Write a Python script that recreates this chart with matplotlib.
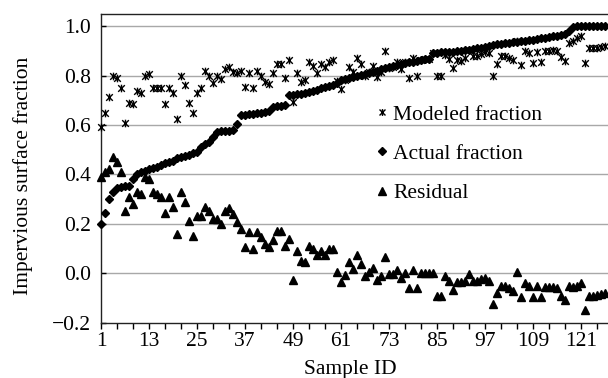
import numpy as np
import matplotlib
matplotlib.use("Agg")
import matplotlib.pyplot as plt
from matplotlib.path import Path
from matplotlib.ticker import FixedLocator, FuncFormatter

plt.rcParams['font.family'] = ['Liberation Serif', 'DejaVu Serif']

sample_id = list(range(1, 128))

modeled = [
    0.59, 0.65, 0.714, 0.80, 0.79, 0.75, 0.606, 0.69, 0.685, 0.737,
    0.73, 0.80, 0.805, 0.75, 0.75, 0.75, 0.683, 0.75, 0.73, 0.625,
    0.80, 0.76, 0.69, 0.647, 0.73, 0.75, 0.82, 0.80, 0.768, 0.80,
    0.785, 0.825, 0.835, 0.815, 0.81, 0.82, 0.755, 0.81, 0.75, 0.82,
    0.80, 0.775, 0.765, 0.81, 0.847, 0.847, 0.79, 0.863, 0.694, 0.81,
    0.775, 0.78, 0.856, 0.84, 0.81, 0.845, 0.836, 0.856, 0.863, 0.776,
    0.745, 0.78, 0.836, 0.813, 0.872, 0.845, 0.797, 0.814, 0.84, 0.795,
    0.815, 0.90, 0.832, 0.835, 0.856, 0.826, 0.853, 0.79, 0.87, 0.80,
    0.862, 0.865, 0.868, 0.89, 0.80, 0.80, 0.885, 0.866, 0.829, 0.862,
    0.86, 0.872, 0.902, 0.878, 0.88, 0.888, 0.896, 0.89, 0.80, 0.845,
    0.878, 0.88, 0.872, 0.861, 0.94, 0.843, 0.90, 0.892, 0.85, 0.897,
    0.855, 0.898, 0.90, 0.904, 0.90, 0.873, 0.857, 0.93, 0.94, 0.95,
    0.96, 0.851, 0.91, 0.91, 0.912, 0.915, 0.92,
]

actual = [
    0.20, 0.245, 0.30, 0.33, 0.345, 0.35, 0.352, 0.355, 0.38, 0.40,
    0.41, 0.415, 0.42, 0.425, 0.43, 0.44, 0.445, 0.45, 0.455, 0.465,
    0.47, 0.475, 0.48, 0.485, 0.49, 0.51, 0.525, 0.53, 0.55, 0.57,
    0.575, 0.575, 0.577, 0.58, 0.605, 0.64, 0.642, 0.644, 0.646, 0.648,
    0.65, 0.652, 0.655, 0.672, 0.675, 0.677, 0.68, 0.72, 0.722, 0.724,
    0.727, 0.73, 0.735, 0.738, 0.742, 0.748, 0.753, 0.758, 0.763, 0.77,
    0.78, 0.785, 0.79, 0.795, 0.80, 0.803, 0.806, 0.81, 0.815, 0.82,
    0.825, 0.83, 0.835, 0.838, 0.842, 0.846, 0.85, 0.853, 0.856, 0.86,
    0.862, 0.865, 0.868, 0.89, 0.892, 0.894, 0.895, 0.896, 0.897, 0.898,
    0.90, 0.902, 0.905, 0.908, 0.91, 0.913, 0.916, 0.92, 0.923, 0.926,
    0.928, 0.93, 0.932, 0.934, 0.936, 0.938, 0.94, 0.942, 0.945, 0.947,
    0.95, 0.952, 0.955, 0.958, 0.96, 0.963, 0.967, 0.98, 0.995, 1.0,
    1.0, 1.0, 1.0, 1.0, 1.0, 1.0, 1.0,
]

residual = [
    0.39, 0.41, 0.42, 0.47, 0.45, 0.41, 0.25, 0.31, 0.28, 0.33,
    0.32, 0.39, 0.38, 0.33, 0.32, 0.31, 0.245, 0.31, 0.27, 0.16,
    0.33, 0.29, 0.21, 0.15, 0.23, 0.23, 0.27, 0.25, 0.22, 0.22,
    0.20, 0.25, 0.265, 0.24, 0.207, 0.18, 0.108, 0.166, 0.10, 0.166,
    0.146, 0.12, 0.108, 0.135, 0.173, 0.173, 0.11, 0.14, -0.027, 0.092,
    0.049, 0.045, 0.112, 0.10, 0.072, 0.09, 0.072, 0.10, 0.10, 0.006,
    -0.036, -0.005, 0.045, 0.018, 0.072, 0.038, -0.01, 0.004, 0.022, -0.027,
    -0.01, 0.065, -0.003, -0.003, 0.014, -0.02, 0.0, -0.06, 0.014, -0.058,
    0.0, 0.0, 0.0, 0.0, -0.09, -0.093, -0.01, -0.03, -0.068, -0.036,
    -0.036, -0.03, -0.003, -0.03, -0.03, -0.025, -0.02, -0.03, -0.124, -0.081,
    -0.05, -0.05, -0.06, -0.073, 0.004, -0.095, -0.04, -0.05, -0.095, -0.05,
    -0.095, -0.054, -0.057, -0.054, -0.06, -0.09, -0.11, -0.05, -0.055, -0.05,
    -0.04, -0.149, -0.09, -0.09, -0.088, -0.085, -0.08,
]

y_ticks = [-0.2, 0.0, 0.2, 0.4, 0.6, 0.8, 1.0]
x_ticks = [1, 13, 25, 37, 49, 61, 73, 85, 97, 109, 121]

# asterisk-style cross: an X with a vertical bar through it
star_x = Path(
    [(-1, -1), (1, 1), (-1, 1), (1, -1), (0, -1.15), (0, 1.15)],
    [Path.MOVETO, Path.LINETO, Path.MOVETO, Path.LINETO, Path.MOVETO, Path.LINETO],
)

fig = plt.figure(figsize=(6.08, 3.78), dpi=100)
ax = fig.add_axes([101 / 608, 55.3 / 378, 507 / 608, 308.7 / 378])

ax.plot(sample_id, modeled, linestyle='none', marker=star_x, ms=5.5,
        mec='black', mew=1.0, color='black', clip_on=False, zorder=3,
        label='Modeled fraction')
ax.plot(sample_id, actual, linestyle='none', marker='D', ms=4.0,
        mec='black', mfc='black', color='black', clip_on=False, zorder=4,
        label='Actual fraction')
ax.plot(sample_id, residual, linestyle='none', marker='^', ms=6.0,
        mec='black', mfc='black', color='black', clip_on=False, zorder=4,
        label='Residual')

ax.set_xlim(1, 127.75)
ax.set_ylim(-0.2, 1.049)

ax.yaxis.set_major_locator(FixedLocator(y_ticks))
ax.yaxis.set_major_formatter(FuncFormatter(lambda v, p: f"{v:.1f}".replace('-', '\u2212')))
ax.xaxis.set_major_locator(FixedLocator(x_ticks))
ax.xaxis.set_minor_locator(FixedLocator([v for v in range(1, 128, 4) if v not in x_ticks]))

ax.tick_params(axis='y', which='major', direction='in', length=3.6, width=1,
               labelsize=15.5, pad=7, color='black')
ax.tick_params(axis='x', which='both', direction='out', length=4, width=1,
               labelsize=15.5, pad=3, color='black')

for v in y_ticks[1:]:
    ax.axhline(v, color='#a8a8a8', lw=1.0, zorder=1)

for side in ('left', 'bottom', 'top'):
    ax.spines[side].set_color('#222222')
    ax.spines[side].set_linewidth(1.0)
ax.spines['right'].set_visible(False)

ax.set_ylabel('Impervious surface fraction', fontsize=15.5)
ax.yaxis.set_label_coords(-0.134, 0.475)
ax.set_xlabel('Sample ID', fontsize=15.5)
ax.xaxis.set_label_coords(0.491, -0.122)

ax.legend(loc='upper left', bbox_to_anchor=(0.5424, 0.707), frameon=False,
          fontsize=15.5, handlelength=0.6, handletextpad=0.2,
          labelspacing=0.9, borderpad=0, borderaxespad=0, markerscale=0.9)

fig.savefig('out.png', dpi=100)
